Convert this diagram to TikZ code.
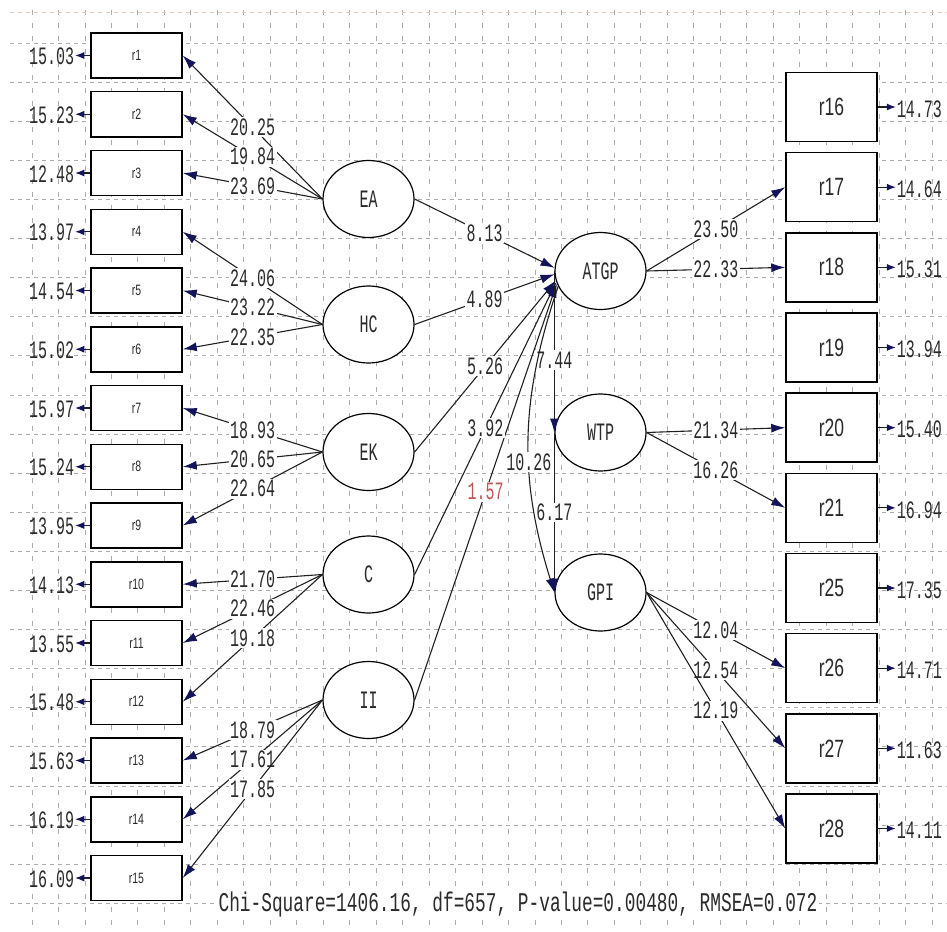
\documentclass[tikz,border=0pt]{standalone}
\usepackage{fontspec}
\usetikzlibrary{shapes.geometric,arrows.meta,calc}
\newfontfamily\numfont[FakeStretch=0.6]{Liberation Mono}
\newfontfamily\botfont[FakeStretch=0.66]{Liberation Mono}
\newfontfamily\boxfont[FakeStretch=0.7]{Liberation Sans}
\definecolor{gridc}{HTML}{ABABAB}
\definecolor{gridtop}{HTML}{E6C6BE}
\definecolor{linec}{HTML}{202020}
\definecolor{tipc}{HTML}{14145A}
\definecolor{textc}{HTML}{2A2A2A}
\definecolor{redc}{HTML}{C05555}
\begin{document}
\begin{tikzpicture}[x=1pt,y=-1pt,
  lbox/.style={draw=black, line width=1.5pt, fill=white, minimum width=91pt, minimum height=45pt, inner sep=0pt, font=\boxfont\fontsize{15}{15}\selectfont, text=textc},
  rbox/.style={draw=black, line width=1.5pt, fill=white, minimum width=91pt, minimum height=69pt, inner sep=0pt, font=\boxfont\fontsize{25}{25}\selectfont, text=textc},
  latent/.style={ellipse, draw=black, line width=1.2pt, fill=white, minimum width=91pt, minimum height=77pt, inner sep=0pt, font=\numfont\fontsize{25}{25}\selectfont, text=textc},
  num/.style={font=\numfont\fontsize{25}{25}\selectfont, text=textc, inner sep=1pt},
  lab/.style={num, fill=white, inner sep=1.5pt},
  conn/.style={draw=linec, line width=1.1pt, -{Latex[length=14pt,width=9pt,color=tipc]}},
  errarr/.style={draw=linec, line width=1.1pt, -{Latex[length=9pt,width=7pt,color=tipc]}}
]
\useasboundingbox (0,0) rectangle (947,931);
% grid
\begin{scope}[line width=0.8pt]
\foreach \k in {0,...,34} \draw[gridc, dash pattern=on 5pt off 8pt] ({32+26.47*\k},10) -- ({32+26.47*\k},931);
\foreach \k in {0,...,22} \draw[gridc, dash pattern=on 4pt off 4pt] (10,{43+39.1*\k}) -- (947,{43+39.1*\k});
\draw[gridtop, dash pattern=on 4pt off 4pt] (10,12) -- (947,12);
\end{scope}
% left indicators
\foreach \i in {1,...,15} \node[lbox] (r\i) at (136.5,{55.5+58.75*(\i-1)}) {r\i};
\foreach \i/\v in {1/15.03,2/15.23,3/12.48,4/13.97,5/14.54,6/15.02,7/15.97,8/15.24,9/13.95,10/14.13,11/13.55,12/15.48,13/15.63,14/16.19,15/16.09}{
  \node[num, anchor=east] (e\i) at ([xshift=-15pt,yshift=-1pt]r\i.west) {\v};
  \draw[errarr] (r\i.west) -- (r\i.west -| e\i.east);
}
% right indicators
\foreach \n [count=\j from 0] in {16,17,18,19,20,21,25,26,27,28} \node[rbox] (r\n) at (831.5,{107+80.17*\j}) {r\n};
\foreach \n/\v in {16/14.73,17/14.64,18/15.31,19/13.94,20/15.40,21/16.94,25/17.35,26/14.71,27/11.63,28/14.11}{
  \node[num, anchor=west] (e\n) at ([xshift=18pt,yshift=-2pt]r\n.east) {\v};
  \draw[errarr] (r\n.east) -- (r\n.east -| e\n.west);
}
% latent variables
\node[latent] (EA) at (368.5,199) {EA};
\node[latent] (HC) at (368.5,324.5) {HC};
\node[latent] (EK) at (368.5,452) {EK};
\node[latent] (C) at (368.5,574.5) {C};
\node[latent] (II) at (368.5,700) {II};
\node[latent] (ATGP) at (600.5,271) {ATGP};
\node[latent] (WTP) at (600.5,432.5) {WTP};
\node[latent] (GPI) at (600.5,592.5) {GPI};
% loadings left
\draw[conn] (EA.west) -- node[lab]{20.25} (r1.east);
\draw[conn] (EA.west) -- node[lab]{19.84} (r2.east);
\draw[conn] (EA.west) -- node[lab]{23.69} (r3.east);
\draw[conn] (HC.west) -- node[lab]{24.06} (r4.east);
\draw[conn] (HC.west) -- node[lab]{23.22} (r5.east);
\draw[conn] (HC.west) -- node[lab]{22.35} (r6.east);
\draw[conn] (EK.west) -- node[lab]{18.93} (r7.east);
\draw[conn] (EK.west) -- node[lab]{20.65} (r8.east);
\draw[conn] (EK.west) -- node[lab]{22.64} (r9.east);
\draw[conn] (C.west) -- node[lab]{21.70} (r10.east);
\draw[conn] (C.west) -- node[lab]{22.46} (r11.east);
\draw[conn] (C.west) -- node[lab]{19.18} (r12.east);
\draw[conn] (II.west) -- node[lab]{18.79} (r13.east);
\draw[conn] (II.west) -- node[lab]{17.61} (r14.east);
\draw[conn] (II.west) -- node[lab]{17.85} (r15.east);
% structural paths
\draw[conn] (II.east) -- node[lab,text=redc]{1.57} (ATGP.196);
\draw[conn] (C.east) -- node[lab]{3.92} (ATGP.194);
\draw[conn] (EK.east) -- node[lab]{5.26} (ATGP.192);
\draw[conn] (HC.east) -- node[lab]{4.89} (ATGP.184);
\draw[conn] (EA.east) -- node[lab]{8.13} (ATGP.176);
\draw[conn] (ATGP.west) -- node[lab,pos=0.55]{7.44} (WTP.west);
\draw[conn] (WTP.west) -- node[lab]{6.17} (GPI.west);
\draw[conn] (ATGP.200) to[bend right=18] node[lab,pos=0.58]{10.26} (GPI.west);
% loadings right
\draw[conn] (ATGP.east) -- node[lab]{23.50} (r17.west);
\draw[conn] (ATGP.east) -- node[lab]{22.33} (r18.west);
\draw[conn] (WTP.east) -- node[lab]{21.34} (r20.west);
\draw[conn] (WTP.east) -- node[lab]{16.26} (r21.west);
\draw[conn] (GPI.east) -- node[lab]{12.04} (r26.west);
\draw[conn] (GPI.east) -- node[lab]{12.54} (r27.west);
\draw[conn] (GPI.east) -- node[lab]{12.19} (r28.west);
% fit statistics
\node[fill=white, inner sep=2pt, font=\botfont\fontsize{27}{27}\selectfont, text=textc] (fit) at (518,905) {Chi-Square=1406.16, df=657, P-value=0.00480, RMSEA=0.072};
\end{tikzpicture}
\end{document}
